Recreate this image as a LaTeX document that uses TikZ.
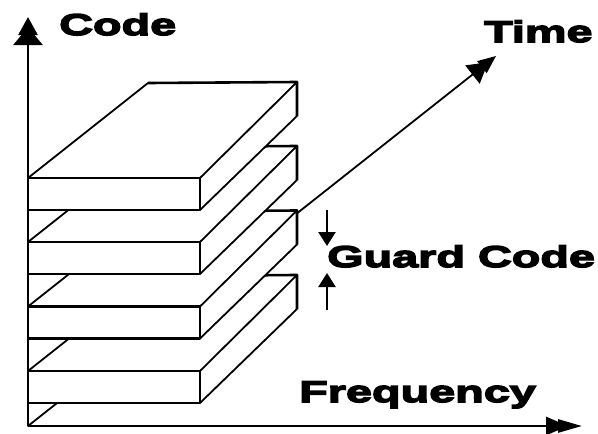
\documentclass[tikz,border=0pt]{standalone}
\usepackage{fontspec}
\newfontfamily\labfont{Liberation Sans}[UprightFont={* Bold}, FakeStretch=1.56, FakeBold=5]
\usetikzlibrary{arrows.meta}

\tikzset{
  outline/.style={line width=2.6pt, line join=round},
  depthline/.style={line width=1.8pt, line cap=round},
  axisline/.style={line width=2.8pt},
  label/.style={font=\labfont\fontsize{30}{36}\selectfont, anchor=base west, inner sep=0pt},
  guardarrow/.style={line width=2.4pt, -{Triangle[length=14pt,width=17pt]}},
  treetip/.tip={Triangle[length=18pt,width=29pt,sep=-8pt] Triangle[length=18pt,width=19pt]},
  timetip/.tip={Triangle[length=20pt,width=23pt,sep=-8pt] Triangle[length=18pt,width=15pt]},
  freqtip/.tip={Triangle[length=22pt,width=18pt,sep=-10pt] Triangle[length=24pt,width=13pt]},
}

% one slab of the stack; #1 = y of the front top edge
\newcommand{\slab}[1]{%
  \fill[white] (28,#1) -- (148,#1-95) -- (297,#1-96) -- (297,#1-62) -- (200,#1+32) -- (28,#1+32) -- cycle;
  \draw[depthline] (28,#1) -- (148,#1-95);
  \draw[depthline] (200,#1) -- (297,#1-96);
  \draw[depthline] (200,#1+32) -- (297,#1-62);
  \draw[outline] (148,#1-95) -- (297,#1-96) -- (297,#1-62);
  \draw[outline] (28,#1) rectangle (200,#1+32);
}

\begin{document}
\begin{tikzpicture}[x=1pt,y=-1pt]
  \useasboundingbox (0,0) rectangle (598,434);

  \coordinate (O) at (28,426);
  \coordinate (codeEnd) at (28,17);
  \coordinate (freqEnd) at (582,426);
  \coordinate (timeEnd) at (496,56);

  % time axis, partly hidden by the slabs drawn over it
  \draw[depthline, -{timetip}] (O) -- (timeEnd);

  % slabs, from the lowest up so each one covers the one beneath
  \slab{371}
  \slab{306.5}
  \slab{242}
  \slab{178}

  % code and frequency axes
  \draw[axisline, -{treetip}] (O) -- (codeEnd);
  \draw[axisline, -{freqtip}] (O) -- (freqEnd);

  % guard interval marks
  \coordinate (gdTop) at (327,210);
  \coordinate (gdTip) at (327,246);
  \coordinate (guTip) at (327,273);
  \coordinate (guBot) at (327,310);
  \draw[guardarrow] (gdTop) -- (gdTip);
  \draw[guardarrow] (guBot) -- (guTip);

  % labels
  \node[label] (code) at (59,35) {Code};
  \node[label] (time) at (484,42) {Time};
  \node[label] (guard) at (327,267) {Guard Code};
  \node[label] (freq) at (299,402) {Frequency};
\end{tikzpicture}
\end{document}
